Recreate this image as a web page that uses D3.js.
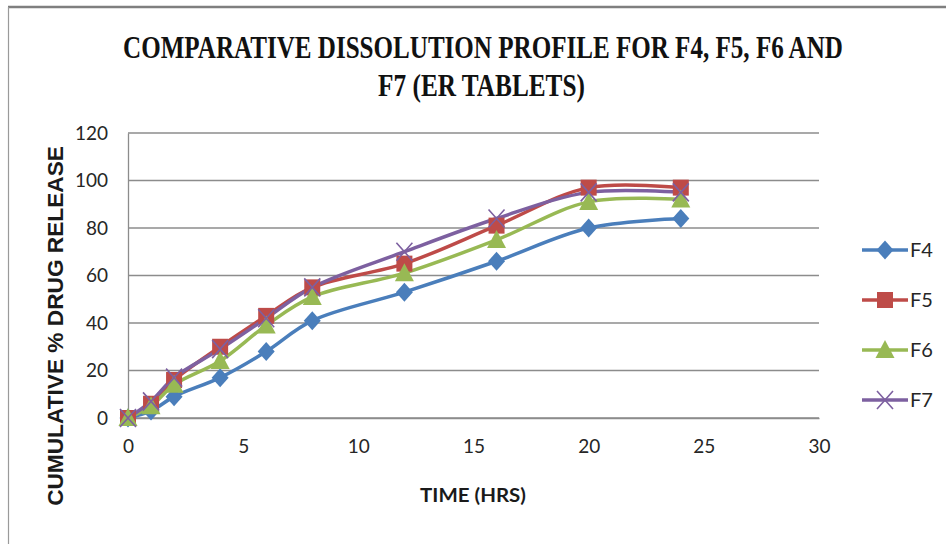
<!DOCTYPE html>
<html>
<head>
<meta charset="utf-8">
<script src="https://cdn.jsdelivr.net/npm/d3@7"></script>
<style>
  html, body { margin: 0; padding: 0; background: #fff; }
  svg { display: block; }
</style>
</head>
<body>
<svg id="chart" width="946" height="544"></svg>
<script>
// Sampling times (hours)
const times = [0, 1, 2, 4, 6, 8, 12, 16, 20, 24];

// Cumulative % drug release for each formulation
const f4 = [0, 3, 9, 17, 28, 41, 53, 66, 80, 84];
const f5 = [0, 6, 16, 30, 43, 55, 65, 81, 97, 97];
const f6 = [0, 5, 14, 24, 39, 51, 61, 75, 91, 92];
const f7 = [0, 7, 17, 29, 42, 55, 70, 84, 95, 95];

const seriesNames = ["F4", "F5", "F6", "F7"];
const seriesColors = ["#4a7ebb", "#be4b48", "#98b954", "#7d60a0"];
const seriesMarkers = ["diamond", "square", "triangle", "cross"];

const xTicks = [0, 5, 10, 15, 20, 25, 30];
const yTicks = [0, 20, 40, 60, 80, 100, 120];

const titleLines = ["COMPARATIVE DISSOLUTION PROFILE FOR F4, F5, F6 AND", "F7 (ER TABLETS)"];
const xTitle = "TIME (HRS)";
const yTitle = "CUMULATIVE % DRUG RELEASE";

const series = [f4, f5, f6, f7].map((vals, i) => ({
  name: seriesNames[i],
  color: seriesColors[i],
  marker: seriesMarkers[i],
  points: times.map((t, j) => ({ t, v: vals[j] }))
}));

const svg = d3.select("#chart");

// Outer chart frame
svg.append("line").attr("x1", 8).attr("x2", 946).attr("y1", 7).attr("y2", 7)
  .attr("stroke", "#7f7f7f").attr("stroke-width", 2.5);
svg.append("line").attr("x1", 8.5).attr("x2", 8.5).attr("y1", 7).attr("y2", 544)
  .attr("stroke", "#9a9a9a").attr("stroke-width", 1.2);

const plot = { left: 128, right: 819, top: 133, bottom: 418 };

const x = d3.scaleLinear().domain([0, 30]).range([plot.left, plot.right]);
const y = d3.scaleLinear().domain([0, 120]).range([plot.bottom, plot.top]);

// Horizontal gridlines
const grid = svg.append("g");
grid.selectAll("line").data(yTicks).join("line")
  .attr("x1", plot.left).attr("x2", plot.right)
  .attr("y1", d => y(d)).attr("y2", d => y(d))
  .attr("stroke", "#8c8c8c").attr("stroke-width", 1.3);

// Y axis
const yAxis = svg.append("g")
  .attr("transform", `translate(${plot.left},0)`)
  .call(d3.axisLeft(y).tickValues(yTicks).tickSize(0).tickPadding(20));
yAxis.select(".domain").attr("stroke", "#8c8c8c").attr("stroke-width", 1.3);
yAxis.selectAll("text")
  .attr("font-family", "Lato, 'Open Sans', sans-serif")
  .attr("font-size", 19).attr("fill", "#262626");

// X axis
const xAxis = svg.append("g")
  .attr("transform", `translate(0,${plot.bottom})`)
  .call(d3.axisBottom(x).tickValues(xTicks).tickSize(0).tickPadding(22));
xAxis.select(".domain").attr("stroke", "#8c8c8c").attr("stroke-width", 1.3);
xAxis.selectAll("text")
  .attr("font-family", "Lato, 'Open Sans', sans-serif")
  .attr("font-size", 19).attr("fill", "#262626");

// Series lines (smoothed)
const line = d3.line()
  .x(d => x(d.t)).y(d => y(d.v))
  .curve(d3.curveCatmullRom.alpha(0.5));

svg.append("g").selectAll("path").data(series).join("path")
  .attr("d", d => line(d.points))
  .attr("fill", "none")
  .attr("stroke", d => d.color)
  .attr("stroke-width", 3.5)
  .attr("stroke-linejoin", "round");

// Marker shapes
function drawMarker(g, type, color) {
  if (type === "diamond") {
    g.append("path").attr("d", "M0,-9.5 L8.5,0 L0,9.5 L-8.5,0 Z").attr("fill", color);
  } else if (type === "square") {
    g.append("rect").attr("x", -8).attr("y", -8).attr("width", 16).attr("height", 16).attr("fill", color);
  } else if (type === "triangle") {
    g.append("path").attr("d", "M0,-10 L9.5,8 L-9.5,8 Z").attr("fill", color);
  } else if (type === "cross") {
    g.append("path").attr("d", "M-8,-9 L8,9 M-8,9 L8,-9")
      .attr("stroke", color).attr("stroke-width", 1.6).attr("fill", "none");
  }
}

series.forEach(s => {
  const mg = svg.append("g");
  s.points.forEach(p => {
    const g = mg.append("g").attr("transform", `translate(${x(p.t)},${y(p.v)})`);
    drawMarker(g, s.marker, s.color);
  });
});

// Legend
const legend = svg.append("g");
series.forEach((s, i) => {
  const ly = 250 + i * 50;
  const g = legend.append("g").attr("transform", `translate(0,${ly})`);
  g.append("line").attr("x1", 862).attr("x2", 908).attr("y1", 0).attr("y2", 0)
    .attr("stroke", s.color).attr("stroke-width", 3.5);
  const mg = g.append("g").attr("transform", "translate(885,0)");
  drawMarker(mg, s.marker, s.color);
  g.append("text").attr("x", 910).attr("y", 0).attr("dy", "0.35em")
    .attr("font-family", "Lato, 'Open Sans', sans-serif")
    .attr("font-size", 20).attr("fill", "#262626")
    .text(s.name);
});

// Fitted text: draw at natural size, then scale horizontally to a target width
function fittedText(parent, str, cx, baseline, width, rotate, attrs) {
  const g = parent.append("g");
  const t = g.append("text").attr("text-anchor", "middle").text(str);
  Object.entries(attrs).forEach(([k, v]) => t.attr(k, v));
  const natural = t.node().getComputedTextLength();
  const sx = width / natural;
  const rot = rotate ? " rotate(-90)" : "";
  g.attr("transform", `translate(${cx},${baseline})${rot} scale(${sx},1)`);
  return g;
}

const titleFont = {
  "font-family": "'Liberation Serif', 'Times New Roman', serif",
  "font-weight": "bold", "font-size": 31, "fill": "#111"
};
fittedText(svg, titleLines[0], 483, 58, 720, false, titleFont);
fittedText(svg, titleLines[1], 481.5, 96, 207, false, titleFont);

// Axis titles
fittedText(svg, xTitle, 473, 502, 106, false, {
  "font-family": "Lato, 'Open Sans', sans-serif",
  "font-weight": "bold", "font-size": 19, "fill": "#1a1a1a"
});

fittedText(svg, yTitle, 63, 326, 360, true, {
  "font-family": "'Liberation Sans', Arial, sans-serif",
  "font-weight": "bold", "font-size": 22, "fill": "#1a1a1a"
});
</script>
</body>
</html>
